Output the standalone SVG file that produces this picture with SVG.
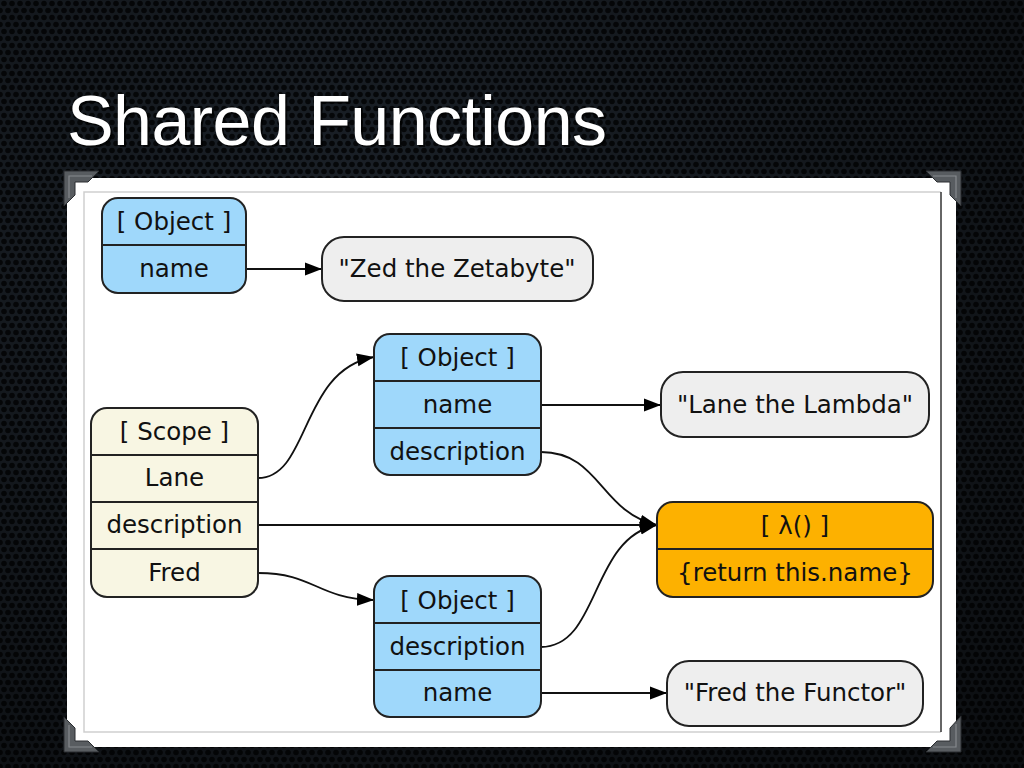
<svg xmlns="http://www.w3.org/2000/svg" width="1024" height="768" viewBox="0 0 1024 768">
<defs>
<pattern id="holes" width="8" height="14" patternUnits="userSpaceOnUse">
<rect width="8" height="14" fill="#1b2128"/>
<circle cx="4" cy="3.5" r="2.8" fill="#06080a"/>
<circle cx="0" cy="10.5" r="2.8" fill="#06080a"/>
<circle cx="8" cy="10.5" r="2.8" fill="#06080a"/>
</pattern>
<radialGradient id="vig" cx="0.35" cy="0.3" r="0.9">
<stop offset="0" stop-color="#000" stop-opacity="0"/>
<stop offset="1" stop-color="#000" stop-opacity="0.55"/>
</radialGradient>
<marker id="arr" markerWidth="18" markerHeight="14" refX="17" refY="7" orient="auto" markerUnits="userSpaceOnUse">
<path d="M0,0.5 L17,7 L0,13.5 z" fill="#000"/>
</marker>
<style>
.t{font-family:"DejaVu Sans",sans-serif;font-size:24.5px;fill:#111;text-anchor:middle}
.n{stroke:#222;stroke-width:2}
.blue{fill:#9fd8fb}
.beige{fill:#f8f6e3}
.orange{fill:#fdb100}
.grey{fill:#eeeeee}
.sep{stroke:#222;stroke-width:2}
.e{fill:none;stroke:#111;stroke-width:1.8;marker-end:url(#arr)}
.br{fill:#585c60;stroke:#2a2d30;stroke-width:1}
.brh{fill:none;stroke:#85898d;stroke-width:1.2}
</style>
</defs>
<rect width="1024" height="768" fill="url(#holes)"/>
<rect width="1024" height="768" fill="url(#vig)"/>
<text x="69" y="147" font-family="Liberation Sans, Arial, sans-serif" font-size="70" fill="#000" opacity="0.7" textLength="540">Shared Functions</text>
<text x="67" y="145" font-family="Liberation Sans, Arial, sans-serif" font-size="70" fill="#ffffff" textLength="540">Shared Functions</text>
<rect x="67" y="178" width="889" height="569" fill="#ffffff"/>
<path d="M941,192 H84 V732 H941" fill="none" stroke="#cfcfcf" stroke-width="1.5"/>
<path d="M941,192 V732" fill="none" stroke="#333" stroke-width="1.5"/>
<g id="corners">
<polygon class="br" points="64,171 99,171 88,182 75,182 75,195 64,206"/>
<polyline class="brh" points="69,198 69,176 92,176"/>
<polygon class="br" points="961,171 926,171 937,182 950,182 950,195 961,206"/>
<polyline class="brh" points="956,198 956,176 933,176"/>
<polygon class="br" points="64,752 99,752 88,741 75,741 75,728 64,717"/>
<polyline class="brh" points="69,725 69,747 92,747"/>
<polygon class="br" points="961,752 926,752 937,741 950,741 950,728 961,716"/>
<polyline class="brh" points="956,724 956,747 933,747"/>
</g>
<g id="connectors">
<path class="e" d="M246,269 H322"/>
<path class="e" d="M541,405 H661"/>
<path class="e" d="M541,452 C600,452 600,512 657,525"/>
<path class="e" d="M258,478 C310,478 300,370 374,357"/>
<path class="e" d="M258,525 H657"/>
<path class="e" d="M258,573 C315,573 315,598 374,600"/>
<path class="e" d="M541,647 C600,647 590,538 657,525"/>
<path class="e" d="M541,693 H667"/>
</g>
<g id="object1">
<rect class="n blue" x="102" y="198" width="144" height="95" rx="16"/>
<line class="sep" x1="102" y1="245" x2="246" y2="245"/>
<text class="t" x="174" y="230">[ Object ]</text>
<text class="t" x="174" y="277">name</text>
</g>
<g id="zed">
<rect class="n grey" x="322" y="237" width="271" height="64" rx="22"/>
<text class="t" x="457" y="277">"Zed the Zetabyte"</text>
</g>
<g id="object2">
<rect class="n blue" x="374" y="334" width="167" height="141" rx="16"/>
<line class="sep" x1="374" y1="381" x2="541" y2="381"/>
<line class="sep" x1="374" y1="428" x2="541" y2="428"/>
<text class="t" x="457.5" y="366">[ Object ]</text>
<text class="t" x="457.5" y="413">name</text>
<text class="t" x="457.5" y="460">description</text>
</g>
<g id="lane">
<rect class="n grey" x="661" y="372" width="268" height="65" rx="22"/>
<text class="t" x="795" y="413">"Lane the Lambda"</text>
</g>
<g id="scope">
<rect class="n beige" x="91" y="408" width="167" height="189" rx="16"/>
<line class="sep" x1="91" y1="455" x2="258" y2="455"/>
<line class="sep" x1="91" y1="502" x2="258" y2="502"/>
<line class="sep" x1="91" y1="549" x2="258" y2="549"/>
<text class="t" x="174.5" y="440">[ Scope ]</text>
<text class="t" x="174.5" y="486">Lane</text>
<text class="t" x="174.5" y="533">description</text>
<text class="t" x="174.5" y="581">Fred</text>
</g>
<g id="lambda">
<rect class="n orange" x="657" y="502" width="276" height="95" rx="16"/>
<line class="sep" x1="657" y1="549" x2="933" y2="549"/>
<text class="t" x="795" y="534">[ λ() ]</text>
<text class="t" x="795" y="581">{return this.name}</text>
</g>
<g id="object3">
<rect class="n blue" x="374" y="576" width="167" height="141" rx="16"/>
<line class="sep" x1="374" y1="623" x2="541" y2="623"/>
<line class="sep" x1="374" y1="670" x2="541" y2="670"/>
<text class="t" x="457.5" y="609">[ Object ]</text>
<text class="t" x="457.5" y="655">description</text>
<text class="t" x="457.5" y="701">name</text>
</g>
<g id="fred">
<rect class="n grey" x="667" y="661" width="256" height="65" rx="22"/>
<text class="t" x="795" y="701">"Fred the Functor"</text>
</g>
</svg>
